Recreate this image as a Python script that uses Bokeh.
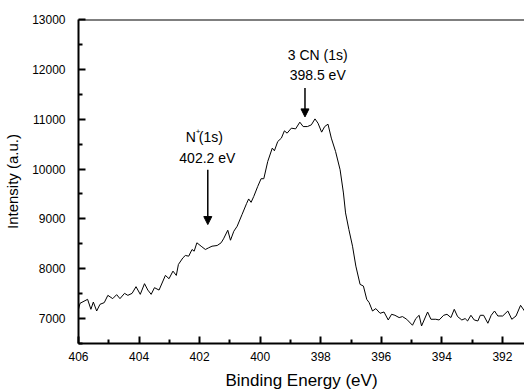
from bokeh.plotting import figure
from bokeh.models import Range1d, Span, Arrow, NormalHead, FixedTicker
from bokeh.core.properties import value
from bokeh.embed import file_html
from bokeh.resources import INLINE

# Binding energy (eV) and intensity (a.u.)
energy = [406.00, 405.95, 405.70, 405.59, 405.51, 405.40, 405.29, 405.15, 405.03, 404.87,
          404.74, 404.63, 404.48, 404.37, 404.23, 404.10, 403.96, 403.82, 403.71, 403.60,
          403.49, 403.34, 403.13, 403.01, 402.88, 402.77, 402.70, 402.55, 402.47, 402.36,
          402.25, 402.18, 402.09, 401.95, 401.81, 401.70, 401.59, 401.42, 401.29, 401.21,
          401.07, 400.98, 400.87, 400.76, 400.60, 400.45, 400.38, 400.30, 400.21, 400.08,
          399.97, 399.88, 399.75, 399.60, 399.53, 399.42, 399.30, 399.20, 399.11, 398.97,
          398.83, 398.69, 398.58, 398.44, 398.31, 398.19, 398.09, 397.97, 397.87, 397.76,
          397.65, 397.51, 397.36, 397.25, 397.18, 397.07, 396.95, 396.84, 396.70, 396.59,
          396.48, 396.40, 396.29, 396.18, 396.04, 395.91, 395.77, 395.66, 395.55, 395.41,
          395.30, 395.16, 394.97, 394.86, 394.75, 394.67, 394.47, 394.36, 394.20, 394.09,
          393.94, 393.83, 393.70, 393.59, 393.48, 393.34, 393.23, 393.15, 393.04, 392.93,
          392.81, 392.73, 392.62, 392.48, 392.37, 392.26, 392.15, 391.99, 391.82, 391.69,
          391.55, 391.40, 391.27, 391.18]
intensity = [7186, 7306, 7386, 7186, 7332, 7152, 7286, 7320, 7466, 7400,
             7480, 7400, 7506, 7466, 7506, 7640, 7486, 7700, 7572, 7486,
             7620, 7572, 7866, 7800, 7952, 7866, 8086, 8220, 8266, 8252,
             8386, 8352, 8520, 8452, 8386, 8420, 8452, 8466, 8520, 8600,
             8772, 8572, 8752, 8852, 9086, 9306, 9400, 9332, 9452, 9652,
             9806, 9806, 10152, 10420, 10366, 10552, 10620, 10766, 10720, 10820,
             10806, 10940, 10852, 10852, 10886, 11006, 10920, 10740, 10852, 10900,
             10620, 10352, 9986, 9520, 9120, 8786, 8452, 8052, 7686, 7652,
             7386, 7320, 7152, 7200, 7106, 7132, 6972, 7086, 7066, 7020,
             7040, 6986, 6866, 7000, 7066, 6852, 7132, 6986, 6986, 6972,
             7066, 7086, 7020, 7186, 7040, 6972, 7000, 6952, 7066, 6972,
             6952, 7066, 7066, 6906, 7066, 7152, 7052, 7052, 7152, 6986,
             7052, 7266, 7152, 7126]

x_ticks = [406, 404, 402, 400, 398, 396, 394, 392]
x_minor = [405, 403, 401, 399, 397, 395, 393]
y_ticks = [7000, 8000, 9000, 10000, 11000, 12000, 13000]
y_minor = [6500, 7500, 8500, 9500, 10500, 11500, 12500]

# Annotations
cn_label = ["3 CN (1s)", "398.5 eV"]
cn_label_x = [398.10, 398.10]
cn_label_y = [12286, 11886]
cn_arrow_x = 398.52
cn_arrow_y = (11626, 11046)

np_label_x = 401.745
np_label_y = [10646, 10226]
np_arrow_x = 401.73
np_arrow_y = (9986, 8886)

FONT = "Liberation Sans"

p = figure(width=524, height=392, output_backend="svg", toolbar_location=None,
           x_range=Range1d(406, 391.27), y_range=Range1d(6500, 13000),
           min_border_left=78, min_border_right=0, min_border_top=19, min_border_bottom=48)
p.outline_line_color = None
p.grid.grid_line_color = None
p.background_fill_color = "white"
p.border_fill_color = "white"

p.line(energy, intensity, line_color="black", line_width=1)

# top frame line
p.add_layout(Span(location=13000, dimension="width", line_color="black", line_width=2))

for ax in (p.xaxis[0], p.yaxis[0]):
    ax.axis_line_width = 2
    ax.axis_line_color = "black"
    ax.major_tick_in = 7
    ax.major_tick_out = 0
    ax.minor_tick_in = 4
    ax.minor_tick_out = 0
    ax.major_tick_line_width = 2
    ax.minor_tick_line_width = 2
    ax.major_label_text_font = FONT
    ax.major_label_text_font_size = "12px"
    ax.major_label_text_color = "black"
    ax.axis_label_text_font = FONT
    ax.axis_label_text_font_style = "normal"
    ax.axis_label_text_color = "black"

p.xaxis[0].ticker = FixedTicker(ticks=x_ticks, minor_ticks=x_minor)
p.yaxis[0].ticker = FixedTicker(ticks=y_ticks, minor_ticks=y_minor)
p.xaxis[0].axis_label = "Binding Energy (eV)"
p.xaxis[0].axis_label_text_font_size = "17px"
p.xaxis[0].major_label_standoff = 8
p.xaxis[0].axis_label_standoff = 7
p.yaxis[0].axis_label = "Intensity (a.u.)"
p.yaxis[0].axis_label_text_font_size = "15px"
p.yaxis[0].major_label_standoff = 13
p.yaxis[0].axis_label_standoff = 8

# CN annotation
p.text(x=cn_label_x, y=cn_label_y, text=cn_label, text_font=value(FONT),
       text_font_size="14px", text_align="center", text_baseline="middle", text_color="black")
p.add_layout(Arrow(x_start=cn_arrow_x, y_start=cn_arrow_y[0], x_end=cn_arrow_x, y_end=cn_arrow_y[1],
                   line_width=1.5, line_color="black",
                   end=NormalHead(size=8, fill_color="black", line_color="black")))

# N+ annotation
p.text(x=[np_label_x], y=[np_label_y[0]], text=["N"], text_font=value(FONT), x_offset=-21.5,
       text_font_size="14px", text_align="left", text_baseline="middle", text_color="black")
p.text(x=[np_label_x], y=[np_label_y[0]], text=["+"], text_font=value(FONT), x_offset=-11.6, y_offset=-5,
       text_font_size="8px", text_align="left", text_baseline="middle", text_color="black")
p.text(x=[np_label_x], y=[np_label_y[0]], text=["(1s)"], text_font=value(FONT), x_offset=-8.6,
       text_font_size="14px", text_align="left", text_baseline="middle", text_color="black")
p.text(x=[np_label_x], y=[np_label_y[1]], text=["402.2 eV"], text_font=value(FONT),
       text_font_size="14px", text_align="center", text_baseline="middle", text_color="black")
p.add_layout(Arrow(x_start=np_arrow_x, y_start=np_arrow_y[0], x_end=np_arrow_x, y_end=np_arrow_y[1],
                   line_width=1.5, line_color="black",
                   end=NormalHead(size=8, fill_color="black", line_color="black")))

open("out.html", "w").write(file_html(p, INLINE))
